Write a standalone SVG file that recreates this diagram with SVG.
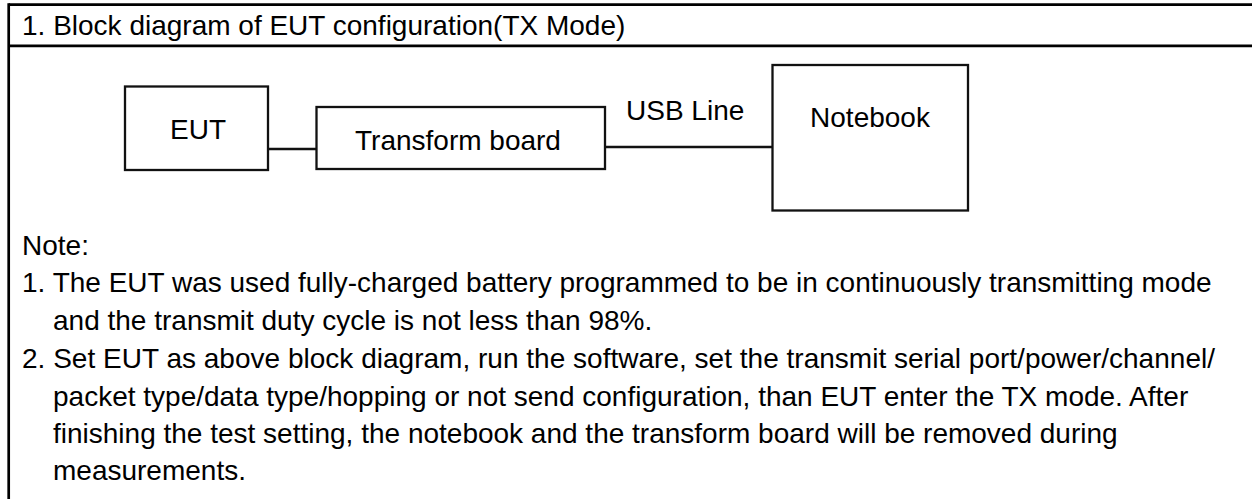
<svg xmlns="http://www.w3.org/2000/svg" width="1252" height="499" viewBox="0 0 1252 499">
<style>
  text { font-family: "Liberation Sans", Arial, sans-serif; font-size: 28px; fill: #000; }
  .frame { stroke: #000; stroke-width: 2.7; fill: none; }
  .box { stroke: #111; stroke-width: 2.3; fill: #fff; }
  .wire { stroke: #111; stroke-width: 2.3; fill: none; }
</style>
<rect width="1252" height="499" fill="#fff"/>
<g id="frame">
  <line class="frame" x1="8.7" y1="4.6" x2="1252" y2="4.6"/>
  <line class="frame" x1="8.7" y1="45.8" x2="1252" y2="45.8"/>
  <line class="frame" x1="8.7" y1="3.3" x2="8.7" y2="499"/>
  <text x="22" y="35">1. Block diagram of EUT configuration(TX Mode)</text>
</g>
<g id="connectors">
  <line class="wire" x1="268" y1="149" x2="316" y2="149"/>
  <line class="wire" x1="605" y1="147" x2="772" y2="147"/>
  <text x="626" y="120">USB Line</text>
</g>
<g id="node-eut">
  <rect class="box" x="125" y="86.5" width="143" height="83.5"/>
  <text x="198" y="139" text-anchor="middle">EUT</text>
</g>
<g id="node-transform">
  <rect class="box" x="316.5" y="107" width="288.5" height="62"/>
  <text x="355" y="150">Transform board</text>
</g>
<g id="node-notebook">
  <rect class="box" x="772.5" y="65" width="195.5" height="145.5"/>
  <text x="870" y="127" text-anchor="middle">Notebook</text>
</g>
<g id="notes">
  <text x="22" y="255">Note:</text>
  <text x="22" y="292">1. The EUT was used fully-charged battery programmed to be in continuously transmitting mode</text>
  <text x="53" y="330">and the transmit duty cycle is not less than 98%.</text>
  <text x="22" y="368" textLength="1193" lengthAdjust="spacing">2. Set EUT as above block diagram, run the software, set the transmit serial port/power/channel/</text>
  <text x="53" y="406">packet type/data type/hopping or not send configuration, than EUT enter the TX mode. After</text>
  <text x="53" y="443">finishing the test setting, the notebook and the transform board will be removed during</text>
  <text x="53" y="480">measurements.</text>
</g>
</svg>
